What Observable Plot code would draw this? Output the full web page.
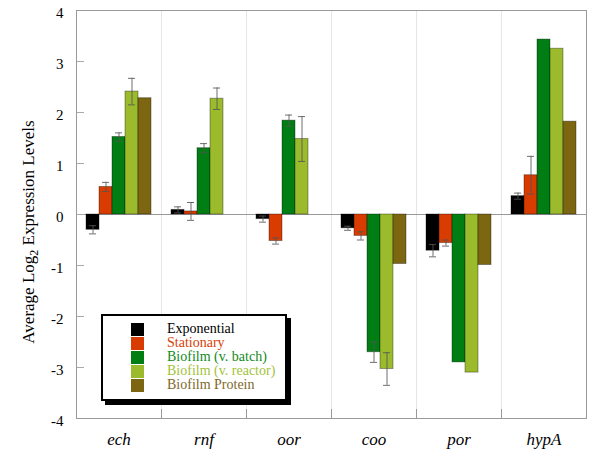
<!DOCTYPE html>
<html>
<head>
<meta charset="utf-8">
<script src="https://cdn.jsdelivr.net/npm/d3@7"></script>
<script src="https://cdn.jsdelivr.net/npm/@observablehq/plot@0.6"></script>
<style>
  html, body { margin: 0; padding: 0; background: #fff; }
  #wrap { position: relative; width: 600px; height: 458px; font-family: "Liberation Serif", serif; }
  #wrap svg, #wrap svg text { font-family: "Liberation Serif", serif !important; }
  #legend { position: absolute; left: 101px; top: 314px; width: 182px; height: 83px; border: 2px solid #000; background: #fff; box-shadow: 4px 4px 0 #000; }
  .row { position: absolute; left: 28px; height: 14px; }
  .sw { position: absolute; left: 0; top: 0; width: 13px; height: 13px; }
  .lab { position: absolute; left: 36px; top: -1px; font-family: "Liberation Serif", serif; font-size: 14px; line-height: 14px; white-space: nowrap; }
</style>
</head>
<body>
<div id="wrap"></div>
<script>
const genes = ["ech", "rnf", "oor", "coo", "por", "hypA"];
const seriesNames = ["Exponential", "Stationary", "Biofilm (v. batch)", "Biofilm (v. reactor)", "Biofilm Protein"];
const colors = ["#000000", "#d93c00", "#007e14", "#9bbb2c", "#7d6612"];
const textColors = ["#000000", "#d8400a", "#108a22", "#a3c23a", "#80692a"];

const exponential = [-0.30, 0.09, -0.09, -0.27, -0.71, 0.36];
const stationary  = [0.54, 0.06, -0.52, -0.42, -0.56, 0.77];
const biofilmBatch   = [1.52, 1.30, 1.84, -2.70, -2.90, 3.43];
const biofilmReactor = [2.41, 2.27, 1.48, -3.03, -3.10, 3.25];
const biofilmProtein = [2.28, null, null, -0.97, -0.99, 1.82];

const exponentialErr = [0.08, 0.06, 0.06, 0.04, 0.12, 0.06];
const stationaryErr  = [0.09, 0.175, 0.06, 0.08, 0.06, 0.37];
const batchErr       = [0.08, 0.09, 0.11, 0.20, null, null];
const reactorErr     = [0.26, 0.21, 0.44, 0.32, null, null];
const proteinErr     = [null, null, null, null, null, null];

const yTicks = [-4, -3, -2, -1, 0, 1, 2, 3, 4];

const values = [exponential, stationary, biofilmBatch, biofilmReactor, biofilmProtein];
const errs = [exponentialErr, stationaryErr, batchErr, reactorErr, proteinErr];

const data = [];
genes.forEach((g, i) => {
  seriesNames.forEach((s, j) => {
    const v = values[j][i];
    if (v != null) data.push({gene: g, series: s, value: v, err: errs[j][i]});
  });
});
const errData = data.filter(d => d.err != null);

const fmt = d => d < 0 ? "-" + Math.abs(d) : String(d);
const serif = '"Liberation Serif", serif';

const chart = Plot.plot({
  width: 600,
  height: 458,
  marginLeft: 75,
  marginRight: 14,
  marginTop: 10,
  marginBottom: 40,
  style: {fontFamily: serif, background: "white", color: "#000"},
  fx: {domain: genes, padding: 0, axis: null},
  x: {domain: seriesNames, paddingInner: 0, paddingOuter: 0.6, axis: null},
  y: {domain: [-4, 4], axis: null},
  color: {domain: seriesNames, range: colors},
  marks: [
    Plot.frame({stroke: "#e6e6e6"}),
    Plot.frame({anchor: "left", insetTop: 399, stroke: "#999"}),
    Plot.ruleY([0], {stroke: "#9a9a9a"}),
    Plot.barY(data, {fx: "gene", x: "series", y: "value", fill: "series", stroke: "#000", strokeOpacity: 0.35}),
    Plot.ruleX(errData, {fx: "gene", x: "series", y1: d => d.value - d.err, y2: d => d.value + d.err, stroke: "#555", strokeOpacity: 0.85}),
    Plot.tickY(errData, {fx: "gene", x: "series", y: d => d.value - d.err, insetLeft: 3, insetRight: 3, stroke: "#555", strokeOpacity: 0.85}),
    Plot.tickY(errData, {fx: "gene", x: "series", y: d => d.value + d.err, insetLeft: 3, insetRight: 3, stroke: "#555", strokeOpacity: 0.85}),
    Plot.axisY({ticks: yTicks, tickSize: -8, tickFormat: () => "", stroke: "#aaa", label: null}),
    Plot.axisY({ticks: yTicks, tickSize: 0, tickPadding: 13, tickFormat: fmt, fontSize: 15, fontFamily: serif, dy: 3, label: null}),
    Plot.axisFx({anchor: "bottom", tickSize: 0, tickPadding: 14, fontSize: 17, fontFamily: serif, fontStyle: "italic", label: null}),
    Plot.frame({facet: "super", stroke: "#999"})
  ]
});

const wrap = document.getElementById("wrap");
wrap.appendChild(chart);

// y-axis title with subscript
const svg = d3.select(chart);
const t = svg.append("text")
  .attr("transform", "translate(34,232) rotate(-90)")
  .attr("text-anchor", "middle")
  .attr("font-family", serif)
  .attr("font-size", 17)
  .attr("fill", "#000");
t.append("tspan").text("Average Log");
t.append("tspan").attr("font-size", 12).attr("dy", 4).text("2");
t.append("tspan").attr("dy", -4).text(" Expression Levels");

// legend
const legend = document.createElement("div");
legend.id = "legend";
seriesNames.forEach((s, i) => {
  const row = document.createElement("div");
  row.className = "row";
  row.style.top = (7 + i * 14) + "px";
  const sw = document.createElement("div");
  sw.className = "sw";
  sw.style.background = colors[i];
  const lab = document.createElement("div");
  lab.className = "lab";
  lab.style.color = textColors[i];
  lab.textContent = s;
  row.appendChild(sw);
  row.appendChild(lab);
  legend.appendChild(row);
});
wrap.appendChild(legend);
</script>
</body>
</html>
